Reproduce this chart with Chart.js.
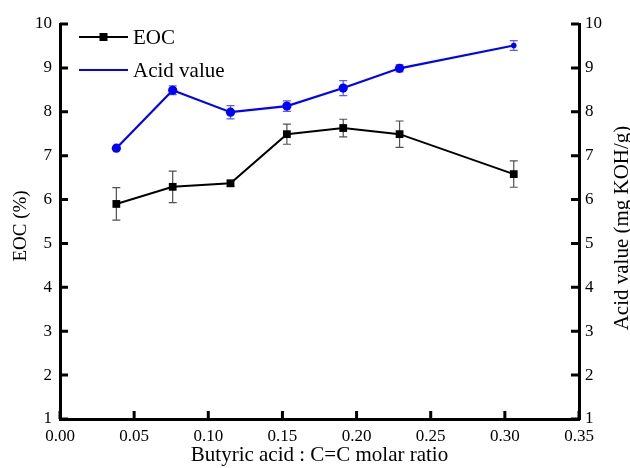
<!DOCTYPE html>
<html>
<head>
<meta charset="utf-8">
<script src="https://cdn.jsdelivr.net/npm/chart.js@4"></script>
<style>
  html, body { margin: 0; padding: 0; background: #fff; }
  #wrap { width: 630px; height: 468px; }
</style>
</head>
<body>
<div id="wrap"><canvas id="chart" width="630" height="468"></canvas></div>
<script>
// Values
const ratios = [0.038, 0.076, 0.115, 0.153, 0.191, 0.229, 0.306];
const eoc = [5.90, 6.29, 6.37, 7.49, 7.63, 7.49, 6.58];
const eocErr = [0.37, 0.36, 0.07, 0.23, 0.20, 0.30, 0.30];
const acidValue = [7.17, 8.49, 7.99, 8.13, 8.54, 8.99, 9.51];
const acidErr = [0.00, 0.10, 0.15, 0.12, 0.17, 0.08, 0.11];
const xTicks = [0, 0.05, 0.10, 0.15, 0.20, 0.25, 0.30, 0.35];

const FONT = "'Liberation Serif', 'Times New Roman', serif";
const toPoints = (ys) => ys.map((y, i) => ({ x: ratios[i], y: y }));

// error bars drawn through the scales, under the markers
const errorBars = {
    id: 'errorBars',
    beforeDatasetsDraw(chart) {
        const ctx = chart.ctx;
        const xs = chart.scales.x;
        const sets = [
            { vals: eoc, err: eocErr, axis: 'y', color: '#505050' },
            { vals: acidValue, err: acidErr, axis: 'y2', color: '#5a5aff' }
        ];
        ctx.save();
        ctx.lineWidth = 1.2;
        sets.forEach(s => {
            const ys = chart.scales[s.axis];
            ctx.strokeStyle = s.color;
            s.vals.forEach((v, i) => {
                if (!s.err[i]) return;
                const px = xs.getPixelForValue(ratios[i]);
                const top = ys.getPixelForValue(v + s.err[i]);
                const bot = ys.getPixelForValue(v - s.err[i]);
                ctx.beginPath();
                ctx.moveTo(px, top); ctx.lineTo(px, bot);
                ctx.moveTo(px - 4, top); ctx.lineTo(px + 4, top);
                ctx.moveTo(px - 4, bot); ctx.lineTo(px + 4, bot);
                ctx.stroke();
            });
        });
        ctx.restore();
    }
};

function verticalTitle(ctx, text, x, y, size) {
    ctx.save();
    ctx.translate(x, y);
    ctx.rotate(-Math.PI / 2);
    ctx.font = size + 'px ' + FONT;
    ctx.fillStyle = '#000';
    ctx.textAlign = 'center';
    ctx.textBaseline = 'middle';
    ctx.fillText(text, 0, 0);
    ctx.restore();
}

// inward tick marks, y titles and legend in the top-left corner
const frame = {
    id: 'frame',
    afterDraw(chart) {
        const ctx = chart.ctx;
        const { left, right, bottom } = chart.chartArea;
        const len = 8;
        ctx.save();
        ctx.strokeStyle = '#000';
        ctx.lineWidth = 3;
        ctx.beginPath();
        chart.scales.x.ticks.forEach(t => {
            const px = chart.scales.x.getPixelForValue(t.value);
            ctx.moveTo(px, bottom); ctx.lineTo(px, bottom - len);
        });
        chart.scales.y.ticks.forEach(t => {
            const py = chart.scales.y.getPixelForValue(t.value);
            ctx.moveTo(left, py); ctx.lineTo(left + len, py);
        });
        chart.scales.y2.ticks.forEach(t => {
            const py = chart.scales.y2.getPixelForValue(t.value);
            ctx.moveTo(right, py); ctx.lineTo(right - len, py);
        });
        ctx.stroke();

        verticalTitle(ctx, 'EOC (%)', 21, 226, 19);
        verticalTitle(ctx, 'Acid value (mg KOH/g)', 622, 228, 21);

        // legend
        const lx = 79, lw = 49;
        ctx.lineWidth = 2;
        ctx.strokeStyle = '#000';
        ctx.beginPath(); ctx.moveTo(lx, 37); ctx.lineTo(lx + lw, 37); ctx.stroke();
        ctx.fillStyle = '#000';
        ctx.fillRect(lx + lw / 2 - 4, 33, 8, 8);
        ctx.lineWidth = 2.2;
        ctx.strokeStyle = '#0000ff';
        ctx.beginPath(); ctx.moveTo(lx, 70); ctx.lineTo(lx + lw, 70); ctx.stroke();
        ctx.font = '21px ' + FONT;
        ctx.textBaseline = 'middle';
        ctx.fillStyle = '#000';
        ctx.fillText('EOC', 133, 38);
        ctx.fillText('Acid value', 133, 71);
        ctx.restore();
    }
};

const tickFont = { family: FONT, size: 17 };
const titleFont = { family: FONT, size: 21 };

new Chart(document.getElementById('chart'), {
    type: 'line',
    data: {
        datasets: [
            {
                label: 'EOC',
                data: toPoints(eoc),
                yAxisID: 'y',
                borderColor: '#000',
                backgroundColor: '#000',
                borderWidth: 2,
                pointStyle: 'rect',
                pointRadius: 5.5,
                pointBorderWidth: 0
            },
            {
                label: 'Acid value',
                data: toPoints(acidValue),
                yAxisID: 'y2',
                borderColor: '#0000ff',
                backgroundColor: '#0000ff',
                borderWidth: 2.2,
                pointStyle: 'circle',
                pointRadius: [4.6, 4.6, 4.6, 4.6, 4.6, 4.6, 2.8],
                pointBorderWidth: 0
            }
        ]
    },
    options: {
        responsive: false,
        animation: false,
        layout: { padding: { top: 24, left: 0, right: 0, bottom: 0 } },
        plugins: { legend: { display: false }, tooltip: { enabled: false } },
        scales: {
            x: {
                type: 'linear',
                min: 0, max: 0.35,
                afterBuildTicks: (s) => { s.ticks = xTicks.map(v => ({ value: v })); },
                afterFit: (s) => { s.height = 49; },
                grid: { display: false, drawTicks: false },
                border: { display: true, color: '#000', width: 3 },
                ticks: { color: '#000', font: tickFont, padding: 7, maxRotation: 0,
                         callback: (v) => Number(v).toFixed(2) },
                title: { display: true, text: 'Butyric acid : C=C molar ratio', color: '#000',
                         font: titleFont, padding: { top: 0, bottom: 0 } }
            },
            y: {
                position: 'left',
                min: 1, max: 10,
                ticks: { stepSize: 1, color: '#000', font: tickFont, padding: 8 },
                afterFit: (s) => { s.width = 60; },
                grid: { display: false, drawTicks: false },
                border: { display: true, color: '#000', width: 3 },
                title: { display: false }
            },
            y2: {
                position: 'right',
                min: 1, max: 10,
                ticks: { stepSize: 1, color: '#000', font: tickFont, padding: 6 },
                afterFit: (s) => { s.width = 51; },
                grid: { display: false, drawTicks: false },
                border: { display: true, color: '#000', width: 3 },
                title: { display: false }
            }
        }
    },
    plugins: [errorBars, frame]
});
</script>
</body>
</html>
